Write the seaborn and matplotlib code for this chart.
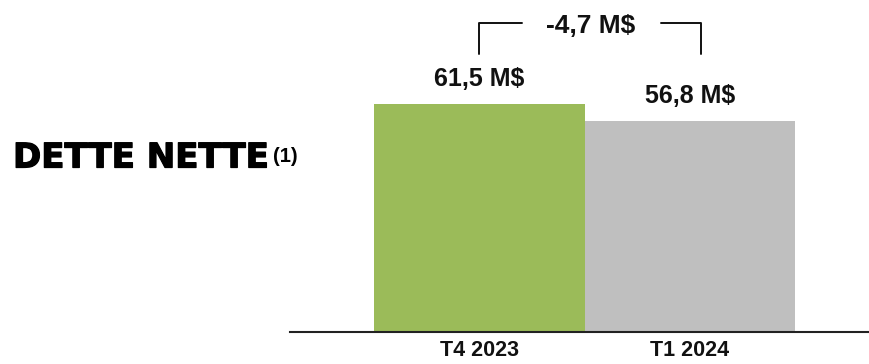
import matplotlib
matplotlib.use("Agg")
import matplotlib.pyplot as plt
import matplotlib.patheffects as pe
import seaborn as sns
import pandas as pd

# ---- data ----
categories = ["T4 2023", "T1 2024"]
values = [61.5, 56.8]
bar_colors = ["#9BBB59", "#BFBFBF"]
unit = "M$"
title_text = "DETTE NETTE"
title_note = "(1)"


def fmt(v):
    return f"{v:.1f}".replace(".", ",")


sns.set_theme(style="white")
plt.rcParams["font.family"] = ["Liberation Sans", "DejaVu Sans"]

W, H = 869, 364
fig = plt.figure(figsize=(W / 100, H / 100), dpi=100)
ax = fig.add_axes([290 / W, (H - 332) / H, (W - 290) / W, 332 / H])

df = pd.DataFrame({"periode": categories, "valeur": values})
sns.barplot(data=df, x="periode", y="valeur", hue="periode", palette=bar_colors,
            width=1.0, saturation=1, legend=False, linewidth=0, ax=ax)

ax.set_xlim(-0.900, 1.850)
ax.set_ylim(0, 89.55)
for s in ["top", "left", "right"]:
    ax.spines[s].set_visible(False)
ax.spines["bottom"].set_linewidth(1.5)
ax.spines["bottom"].set_color("#222222")
ax.set_xlabel("")
ax.set_ylabel("")
ax.set_yticks([])
ax.tick_params(axis="x", length=0, pad=5.5)
for lbl in ax.get_xticklabels():
    lbl.set_fontsize(15.5)
    lbl.set_fontweight("bold")
    lbl.set_color("#111111")

# value labels
for bar, v in zip(ax.patches, values):
    ax.annotate(f"{fmt(v)} {unit}", (bar.get_x() + bar.get_width() / 2, bar.get_height()),
                xytext=(0, 13), textcoords="offset points", ha="center", va="baseline",
                fontsize=18, fontweight="bold", color="#111111")

# difference bracket
delta = values[1] - values[0]
top = max(values)
yb = top + 13.5
yt = top + 21.9
ax.plot([0, 0, 0.2], [yb, yt, yt], color="#111111", lw=1.4, clip_on=False)
ax.plot([0.86, 1.05, 1.05], [yt, yt, yb], color="#111111", lw=1.4, clip_on=False)
ax.text(0.53, yt - 2.7, f"{fmt(delta)} {unit}", ha="center", va="baseline",
        fontsize=19, fontweight="bold", color="#111111")

# title
t = fig.text(13 / W, 1 - 167.5 / H, title_text, fontsize=24.5, fontweight="bold",
             family="DejaVu Sans", ha="left", va="baseline", color="black",
             path_effects=[pe.withStroke(linewidth=0.9, foreground="black")])
fig.canvas.draw()
bb = t.get_window_extent(renderer=fig.canvas.get_renderer())
fig.text((bb.x1 + 4) / W, 1 - 162 / H, title_note, fontsize=14.5, fontweight="bold",
         ha="left", va="baseline", color="black")

fig.savefig("out.png", dpi=100)
